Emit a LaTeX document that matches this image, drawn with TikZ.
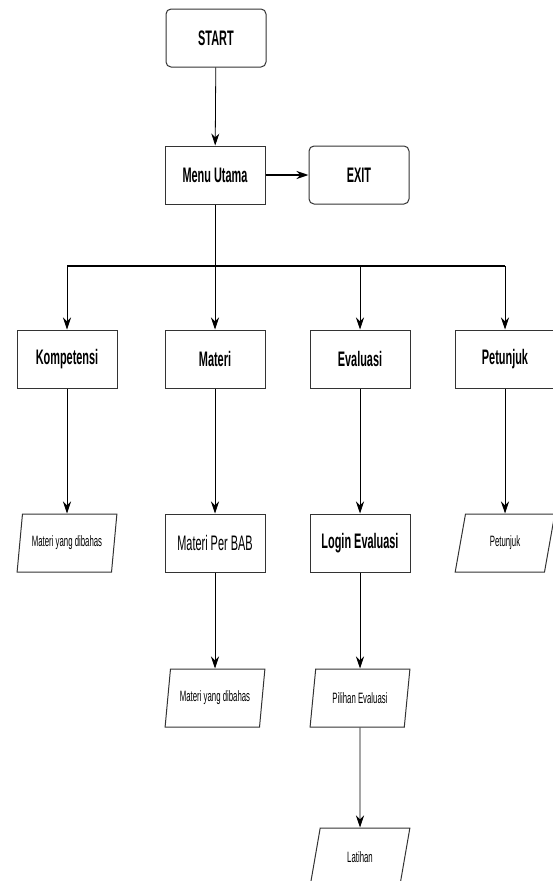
\documentclass[tikz,border=0pt]{standalone}
\usepackage{fontspec}
\setmainfont{Liberation Sans}[FakeStretch=0.52]
\usetikzlibrary{arrows.meta}
\usetikzlibrary{shapes.geometric}
\usetikzlibrary{positioning}

\tikzset{
  bigtext/.style={font=\fontsize{21}{25}\selectfont},
  smalltext/.style={font=\fontsize{15}{18}\selectfont},
  procbox/.style={rectangle,draw=black!80,line width=1pt,minimum width=100pt,minimum height=58pt,inner sep=2pt},
  termbox/.style={procbox,rounded corners=5pt},
  iobox/.style={trapezium,trapezium left angle=76,trapezium right angle=104,trapezium stretches=true,draw=black!80,line width=1pt,minimum width=100pt,minimum height=58pt,inner sep=2pt},
  arr/.style={-{Stealth[length=12pt,width=8pt]},line width=0.8pt}
}

\begin{document}
\begin{tikzpicture}[x=1pt,y=-1pt]
\useasboundingbox (0,0) rectangle (552,881);

\node[termbox,bigtext] (start) at (216,38) {\textbf{START}};
\node[procbox,bigtext] (menu) at (215,175) {\textbf{Menu Utama}};
\node[termbox,bigtext] (exit) at (359,175) {\textbf{EXIT}};

\node[procbox,bigtext] (kompetensi) at (67,359) {\textbf{Kompetensi}};
\node[procbox,bigtext] (materi) at (215,359) {\textbf{Materi}};
\node[procbox,bigtext] (evaluasi) at (360,359) {\textbf{Evaluasi}};
\node[procbox,bigtext] (petunjuk) at (505,359) {\textbf{Petunjuk}};

\node[iobox,smalltext] (dibahasA) at (67,543) {Materi yang dibahas};
\node[procbox,bigtext] (perbab) at (215,543) {Materi Per BAB};
\node[procbox,bigtext] (login) at (360,543) {\textbf{Login Evaluasi}};
\node[iobox,smalltext] (petunjukisi) at (505,543) {Petunjuk};

\node[iobox,smalltext] (dibahasB) at (215,698) {Materi yang dibahas};
\node[iobox,smalltext] (pilihan) at (360,698) {Pilihan Evaluasi};
\node[iobox,smalltext] (latihan) at (360,857) {Latihan};

\draw[arr] (start) -- (menu);
\draw[arr,line width=1.8pt] (menu) -- (exit);

% cabang menu utama
\coordinate (bus) at (215,266);
\draw[line width=0.8pt] (menu) -- (bus);
\draw[line width=1.6pt] (kompetensi |- bus) -- (petunjuk |- bus);
\foreach \n in {kompetensi,materi,evaluasi,petunjuk}
  \draw[arr] (\n |- bus) -- (\n);

\draw[arr] (kompetensi) -- (dibahasA);
\draw[arr] (materi) -- (perbab);
\draw[arr] (evaluasi) -- (login);
\draw[arr] (petunjuk) -- (petunjukisi);
\draw[arr] (perbab) -- (dibahasB);
\draw[arr] (login) -- (pilihan);
\draw[arr] (pilihan) -- (latihan);

\end{tikzpicture}
\end{document}
